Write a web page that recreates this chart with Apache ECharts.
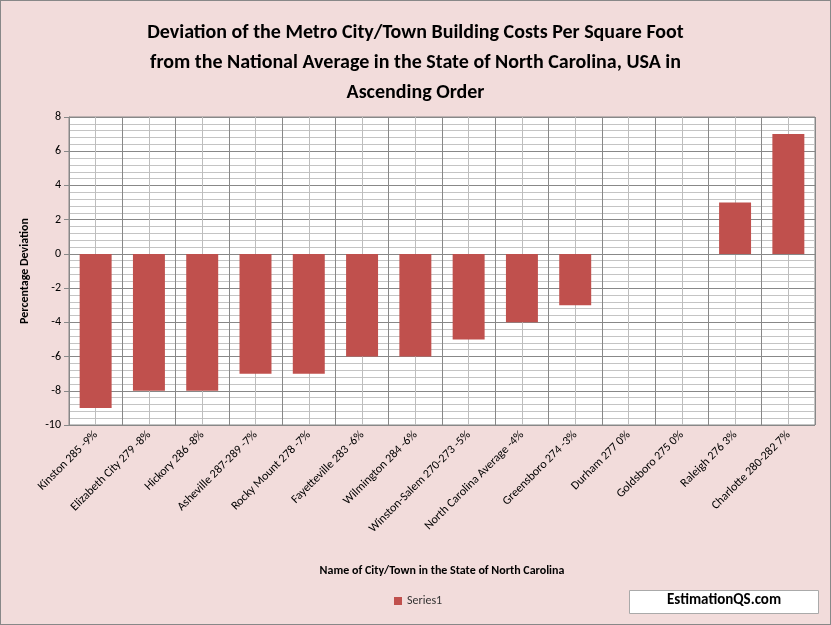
<!DOCTYPE html><html><head><meta charset="utf-8"><script src="https://cdn.jsdelivr.net/npm/echarts@6/dist/echarts.min.js"></script>
<style>html,body{margin:0;padding:0;background:#f2dcdb}#c{width:831px;height:625px;box-sizing:border-box;border:1px solid #888}</style></head><body><div id="c"></div><script>
var categories=["Kinston 285 -9%","Elizabeth City 279 -8%","Hickory 286 -8%","Asheville 287-289 -7%","Rocky Mount 278 -7%","Fayetteville 283 -6%","Wilmington 284 -6%","Winston-Salem 270-273 -5%","North Carolina Average -4%","Greensboro 274 -3%","Durham 277 0%","Goldsboro 275 0%","Raleigh 276 3%","Charlotte 280-282 7%"];
var values=[-9,-8,-8,-7,-7,-6,-6,-5,-4,-3,0,0,3,7];
var ch=echarts.init(document.getElementById('c'));
var F='Calibri, Carlito, "Open Sans", sans-serif';
ch.setOption({
animation:false,backgroundColor:'#f2dcdb',
title:{text:'Deviation of the Metro City/Town Building Costs Per Square Foot\nfrom the National Average in the State of North Carolina, USA in\nAscending Order',left:'center',top:12,textStyle:{fontFamily:F,fontSize:20,fontWeight:'bold',lineHeight:30,color:'#000'}},
grid:{left:68,right:15,top:116,bottom:199,show:true,backgroundColor:'#fff',borderColor:'#888',borderWidth:1},
legend:{bottom:12,left:388,itemWidth:8,itemHeight:8,icon:'rect',textStyle:{fontFamily:F,fontSize:12,color:'#333'},data:['Series1']},
graphic:[{type:'rect',left:628,top:589,shape:{width:189,height:23},style:{fill:'#fff',stroke:'#aaa'}},
{type:'text',left:666,top:592,style:{text:'EstimationQS.com',font:'bold 15px '+F,fill:'#000'}}],
xAxis:[{type:'category',data:categories,position:'bottom',axisLine:{show:false,onZero:false},axisTick:{show:false},
 axisLabel:{rotate:45,interval:0,fontFamily:F,fontSize:12,color:'#000',margin:8},
 splitLine:{show:false},
 name:'Name of City/Town in the State of North Carolina',nameLocation:'middle',nameGap:140,nameTextStyle:{fontFamily:F,fontSize:12,fontWeight:'bold',color:'#000'}},
{type:'category',data:categories,position:'bottom',axisLine:{onZero:true,lineStyle:{color:'#888'}},axisTick:{show:true,lineStyle:{color:'#888'}},axisLabel:{show:false}},
{type:'value',min:0,max:14,interval:0.5,position:'top',axisLine:{show:false},axisTick:{show:false},axisLabel:{show:false},splitLine:{show:true,lineStyle:{color:['#888','#bdbdbd']}}}],
yAxis:{type:'value',min:-10,max:8,interval:2,axisLine:{show:true,lineStyle:{color:'#888'}},axisTick:{show:true,lineStyle:{color:'#888'}},
 axisLabel:{fontFamily:F,fontSize:12,color:'#000'},splitLine:{lineStyle:{color:'#888'}},
 minorTick:{show:false,splitNumber:5},minorSplitLine:{show:true,lineStyle:{color:'#c4c4c4'}},
 name:'Percentage Deviation',nameLocation:'middle',nameGap:38,nameTextStyle:{fontFamily:F,fontSize:12,fontWeight:'bold',color:'#000'}},
series:[{name:'Series1',type:'bar',data:values,barWidth:'60%',itemStyle:{color:'#c0504d'},xAxisIndex:0,z:5}]
});
</script></body></html>
